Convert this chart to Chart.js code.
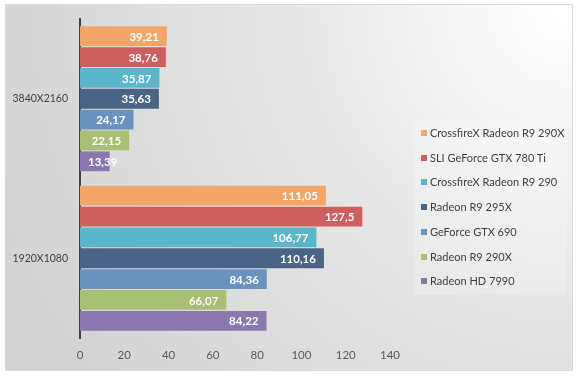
<!DOCTYPE html>
<html>
<head>
<meta charset="utf-8">
<script src="https://cdn.jsdelivr.net/npm/chart.js@4.4.1/dist/chart.umd.min.js"></script>
<style>
    html, body { margin: 0; padding: 0; background: #ffffff; }
    #wrap { position: relative; width: 578px; height: 377px; }
    #grafico { position: absolute; left: 0; top: 0; }
    #leyenda {
        position: absolute; left: 415px; top: 120px; width: 152px; height: 175px;
        background: rgba(255, 255, 255, 0.22);
        font-family: Lato, 'Liberation Sans', sans-serif; font-size: 11px; color: #404040;
    }
    #leyenda div { position: absolute; left: 6px; height: 14px; line-height: 14px; white-space: nowrap; }
    #leyenda span { display: inline-block; width: 6px; height: 6px; margin-right: 3px; vertical-align: 1px; }
</style>
</head>
<body>
<div id="wrap">
    <canvas id="grafico" width="578" height="377"></canvas>
    <div id="leyenda"></div>
</div>
<script>
// ===== DATOS =====
const resoluciones = ['3840X2160', '1920X1080'];
const tarjetas = [
    'CrossfireX Radeon R9 290X',
    'SLI GeForce GTX 780 Ti',
    'CrossfireX Radeon R9 290',
    'Radeon R9 295X',
    'GeForce GTX 690',
    'Radeon R9 290X',
    'Radeon HD 7990'
];
const crossfire290x = [39.21, 111.05];
const sli780ti = [38.76, 127.5];
const crossfire290 = [35.87, 106.77];
const r9295x = [35.63, 110.16];
const gtx690 = [24.17, 84.36];
const r9290x = [22.15, 66.07];
const hd7990 = [13.39, 84.22];
const ticksX = [0, 20, 40, 60, 80, 100, 120, 140];

const colores = ['#F4A66A', '#CD5F5F', '#5BB6CB', '#4A6485', '#6A92BE', '#A8BF74', '#8A77AC'];
const series = [crossfire290x, sli780ti, crossfire290, r9295x, gtx690, r9290x, hd7990];

// Fondo con degradado y marco
const fondoPlugin = {
    id: 'fondo',
    beforeDraw(chart) {
        const ctx = chart.ctx;
        ctx.save();
        ctx.fillStyle = '#ffffff';
        ctx.fillRect(0, 0, chart.width, chart.height);
        const grad = ctx.createRadialGradient(565, 8, 10, 565, 8, 620);
        grad.addColorStop(0, '#ffffff');
        grad.addColorStop(0.45, '#e6e6e6');
        grad.addColorStop(1, '#d2d2d2');
        ctx.fillStyle = grad;
        ctx.fillRect(5, 4, 568, 367);
        ctx.strokeStyle = '#d9d9d9';
        ctx.lineWidth = 1;
        ctx.strokeRect(5.5, 4.5, 567, 366);
        ctx.restore();
    }
};

// Etiquetas de valor dentro de las barras
const etiquetasPlugin = {
    id: 'etiquetas',
    afterDatasetsDraw(chart) {
        const ctx = chart.ctx;
        const base = chart.scales.x.getPixelForValue(0);
        ctx.save();
        ctx.font = 'bold 11.5px Lato, "Liberation Sans", sans-serif';
        ctx.fillStyle = '#ffffff';
        ctx.textAlign = 'right';
        ctx.textBaseline = 'middle';
        chart.data.datasets.forEach(function(ds, i) {
            const meta = chart.getDatasetMeta(i);
            meta.data.forEach(function(bar, j) {
                const texto = ds.data[j].toString().replace('.', ',');
                const w = ctx.measureText(texto).width;
                const x = Math.max(bar.x - 8, base + 8 + w);
                ctx.fillText(texto, x, bar.y + 1);
            });
        });
        ctx.restore();
    }
};

const ctxGrafico = document.getElementById('grafico');
new Chart(ctxGrafico, {
    type: 'bar',
    data: {
        labels: resoluciones,
        datasets: series.map(function(valores, i) {
            return {
                label: tarjetas[i],
                data: valores,
                backgroundColor: colores[i],
                categoryPercentage: 0.915,
                barPercentage: 0.95
            };
        })
    },
    options: {
        indexAxis: 'y',
        responsive: false,
        animation: false,
        devicePixelRatio: 1,
        layout: { padding: { top: 19, right: 188, bottom: 0, left: 0 } },
        plugins: {
            legend: { display: false },
            tooltip: { enabled: false }
        },
        scales: {
            x: {
                min: 0,
                max: 140,
                afterBuildTicks: function(scale) {
                    scale.ticks = ticksX.map(function(v) { return { value: v }; });
                },
                afterFit: function(scale) { scale.height = 39; },
                grid: { display: false, drawTicks: false },
                border: { display: false },
                ticks: {
                    padding: 10,
                    color: '#595959',
                    font: { family: 'Lato, "Liberation Sans", sans-serif', size: 11.5 }
                }
            },
            y: {
                afterFit: function(scale) { scale.width = 80; },
                grid: { display: false, drawTicks: false },
                border: { display: true, color: '#404040', width: 2 },
                ticks: {
                    padding: 12,
                    color: '#404040',
                    font: { family: 'Lato, "Liberation Sans", sans-serif', size: 10.5 }
                }
            }
        }
    },
    plugins: [fondoPlugin, etiquetasPlugin]
});

// Leyenda
const leyenda = document.getElementById('leyenda');
tarjetas.forEach(function(nombre, i) {
    const item = document.createElement('div');
    item.style.top = (6 + i * 24.7) + 'px';
    const cuadro = document.createElement('span');
    cuadro.style.background = colores[i];
    item.appendChild(cuadro);
    item.appendChild(document.createTextNode(nombre));
    leyenda.appendChild(item);
});
</script>
</body>
</html>
